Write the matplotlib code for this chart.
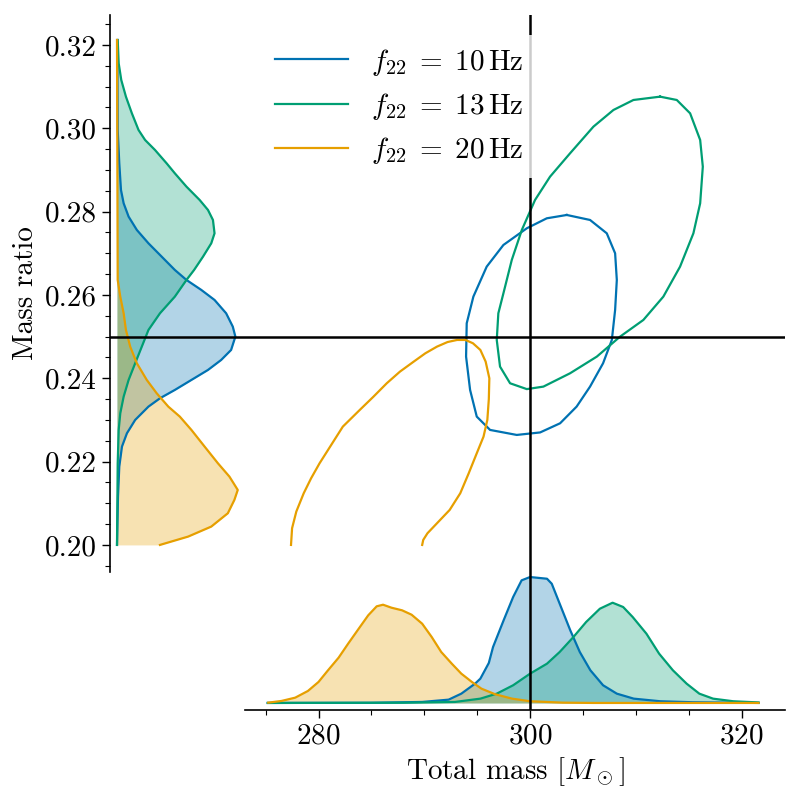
import matplotlib
matplotlib.use('Agg')
import matplotlib.pyplot as plt
import numpy as np

plt.rcParams['font.family'] = 'cmr10'
plt.rcParams['mathtext.fontset'] = 'cm'
plt.rcParams['axes.formatter.use_mathtext'] = True

labels = [r'$f_{22}\;=\;10\,\mathrm{Hz}$', r'$f_{22}\;=\;13\,\mathrm{Hz}$', r'$f_{22}\;=\;20\,\mathrm{Hz}$']
colors = ['#0072B2', '#009E73', '#E69F00']

# marginal of total mass (arbitrary density units)
m_10 = [275.2, 285.0, 289.8, 292.3, 293.5, 294.8, 295.3, 296.1, 296.5, 297.5, 298.4, 299.2,
        300.0, 301.6, 302.05, 302.8, 303.8, 304.7, 305.7, 306.9, 308.2, 309.8, 312.3, 315.4,
        321.6]
pm_10 = [0, 0.2, 1, 3.3, 9.3, 19.3, 24.3, 40, 56, 82.7, 106, 122.7, 126, 124.3, 119.3, 99.3,
         72.7, 51, 32.7, 17.7, 9.3, 4.3, 1.7, 0.7, 0]
m_13 = [275.2, 288.0, 292.9, 295.3, 296.85, 298.4, 300.0, 301.6, 302.8, 304.1, 305.3, 306.6,
        307.8, 308.8, 309.7, 311.0, 312.2, 313.5, 314.8, 316.0, 317.3, 319.2, 321.6]
pm_13 = [0, 0.2, 1, 4.3, 9.3, 17.7, 29.3, 39.3, 51, 66, 81, 94.3, 100.3, 96, 86, 69.3, 49.3,
         32.7, 19.3, 9.3, 4.3, 1.7, 0.5]
m_20 = [275.25, 276.5, 277.8, 279.0, 280.0, 280.9, 281.9, 282.8, 283.8, 284.7, 285.5, 286.1,
        286.9, 287.9, 288.8, 289.8, 290.7, 291.6, 292.6, 293.5, 294.5, 295.4, 296.7, 298.3,
        300.0, 303.1, 306.0, 321.6]
pm_20 = [0.3, 2, 5.3, 12, 21, 32.7, 45.3, 59.3, 74.3, 87.7, 96.7, 98.3, 95.3, 92.7, 88.3,
         79.3, 66, 51, 39.3, 29.3, 21, 14.3, 8.7, 4.3, 1.7, 0.3, 0, 0]

# marginal of mass ratio
q_10 = [0.3212, 0.2996, 0.2916, 0.2852, 0.2820, 0.2788, 0.2756, 0.2724, 0.2692, 0.2660,
        0.2636, 0.2612, 0.2588, 0.2556, 0.2524, 0.2500, 0.2468, 0.2444, 0.2420, 0.2396,
        0.2372, 0.2352, 0.2332, 0.2300, 0.2268, 0.2236, 0.2188, 0.2116, 0.2000]
pq_10 = [0.3, 0.7, 2.3, 4, 6.7, 11.7, 20, 31.7, 45, 58.3, 70, 85, 98.3, 110, 116.7, 119.3,
         115, 105, 91.7, 75, 58.3, 43.3, 31.7, 18.3, 10, 5, 2.3, 1, 0]
q_13 = [0.3212, 0.3156, 0.3116, 0.3076, 0.3036, 0.2996, 0.2972, 0.2948, 0.2916, 0.2892,
        0.2860, 0.2828, 0.2804, 0.2780, 0.2748, 0.2724, 0.2692, 0.2660, 0.2636, 0.2596,
        0.2556, 0.2516, 0.2476, 0.2436, 0.2396, 0.2356, 0.2316, 0.2276, 0.2196, 0.2000]
pq_13 = [0.7, 1.7, 4.3, 9, 15, 21.7, 28.3, 38.3, 50, 58.3, 70, 83.3, 91.7, 96.7, 98.3, 95,
         86.7, 77.7, 70, 58.3, 43.3, 31.7, 25, 18.3, 11.7, 6.7, 3.3, 1.7, 0.7, 0]
q_20 = [0.3212, 0.2800, 0.2636, 0.2596, 0.2556, 0.2516, 0.2476, 0.2436, 0.2396, 0.2364,
        0.2332, 0.2308, 0.2276, 0.2236, 0.2196, 0.2164, 0.2132, 0.2108, 0.2076, 0.2044,
        0.2020, 0.2000]
pq_20 = [0, 0.5, 0.7, 3.3, 6.7, 9, 13.3, 20, 30, 40, 51.7, 63.3, 75, 88.3, 101.7, 113.3,
         121.7, 118.3, 111.7, 95, 71.7, 43.3]

# 2D credible contours (total mass, mass ratio)
c_m_10 = [303.47, 305.67, 307.25, 308.04, 308.2, 308.04, 307.73, 306.9, 305.67, 304.4,
          302.84, 300.95, 298.74, 296.22, 294.96, 294.33, 293.95, 294.01, 294.64, 295.9,
          297.48, 299.69, 301.58, 303.47]
c_q_10 = [0.2792, 0.2780, 0.2748, 0.2700, 0.2636, 0.2564, 0.2492, 0.2436, 0.2380, 0.2332,
          0.2292, 0.2270, 0.2264, 0.2276, 0.2308, 0.2372, 0.2452, 0.2532, 0.2596, 0.2668,
          0.2720, 0.2760, 0.2784, 0.2792]
c_m_13 = [312.29, 313.87, 315.13, 316.08, 316.33, 316.08, 315.44, 314.18, 312.6, 310.71,
          308.51, 306.31, 303.78, 301.26, 299.69, 298.11, 297.16, 296.85, 297.0, 297.48,
          298.27, 299.22, 300.47, 301.89, 303.78, 305.99, 307.88, 309.77, 312.29]
c_q_13 = [0.3076, 0.3068, 0.3036, 0.2972, 0.2908, 0.2820, 0.2748, 0.2668, 0.2596, 0.2540,
          0.2500, 0.2452, 0.2412, 0.2380, 0.2374, 0.2388, 0.2428, 0.2492, 0.2556, 0.2604,
          0.2684, 0.2756, 0.2828, 0.2884, 0.2940, 0.3004, 0.3044, 0.3068, 0.3076]
c_m_20 = [277.4, 277.5, 277.9, 278.6, 279.3, 280.1, 281.2, 282.3, 283.9, 285.2, 286.45,
          287.7, 289.0, 290.1, 291.2, 292.2, 293.1, 293.9, 294.6, 295.3, 295.8, 296.15,
          296.1, 295.96, 295.6, 294.96, 294.2, 293.4, 292.4, 291.2, 290.3, 289.9, 289.8]
c_q_20 = [0.2000, 0.2040, 0.2080, 0.2124, 0.2160, 0.2196, 0.2240, 0.2284, 0.2324, 0.2356,
          0.2388, 0.2416, 0.2440, 0.2460, 0.2476, 0.2487, 0.2492, 0.2492, 0.2484, 0.2468,
          0.2440, 0.2400, 0.2350, 0.2300, 0.2260, 0.2220, 0.2172, 0.2124, 0.2084, 0.2052,
          0.2028, 0.2012, 0.2000]

m_true, q_true = 300, 0.25

fig = plt.figure(figsize=(8, 8), dpi=100)
ax = fig.add_axes([245/800, 1-572/800, 540/800, 557/800])
ax_l = fig.add_axes([110/800, 1-572/800, 135/800, 557/800], sharey=ax)
ax_b = fig.add_axes([245/800, 1-710/800, 540/800, 138/800], sharex=ax)

lw = 1.6
for mm, pm, c in zip([m_10, m_13, m_20], [pm_10, pm_13, pm_20], colors):
    ax_b.fill_between(mm, 0, pm, color=c, alpha=0.3, lw=0)
    ax_b.plot(mm, pm, color=c, lw=lw)
for qq, pq, c in zip([q_10, q_13, q_20], [pq_10, pq_13, pq_20], colors):
    ax_l.fill_betweenx(qq, 0, pq, color=c, alpha=0.3, lw=0)
    ax_l.plot(pq, qq, color=c, lw=lw)

for cm_, cq_, c, lab in zip([c_m_10, c_m_13, c_m_20], [c_q_10, c_q_13, c_q_20], colors, labels):
    ax.plot(cm_, cq_, color=c, lw=lw, label=lab)

ax.set_xlim(273.05, 324.1)
ax.set_ylim(0.1935, 0.3272)
mb = max(pm_10 + pm_13 + pm_20)
ax_b.set_ylim(-0.056*mb, 1.04*mb)
ml = max(pq_10 + pq_13 + pq_20)
ax_l.set_xlim(-0.058*ml, 1.06*ml)

ax.axvline(m_true, color='k', lw=1.8, zorder=5)
ax.axhline(q_true, color='k', lw=1.8, zorder=5)
ax_b.axvline(m_true, color='k', lw=1.8, zorder=5)
ax_l.axhline(q_true, color='k', lw=1.8, zorder=5)

ax.axis('off')
for s in ['top', 'right', 'bottom']:
    ax_l.spines[s].set_visible(False)
for s in ['top', 'right', 'left']:
    ax_b.spines[s].set_visible(False)
ax_l.spines['left'].set_linewidth(1.2)
ax_b.spines['bottom'].set_linewidth(1.2)
ax_l.tick_params(axis='x', bottom=False, labelbottom=False)
ax_b.tick_params(axis='y', left=False, labelleft=False)
ax_b.tick_params(axis='x', labelbottom=True)
ax_l.tick_params(axis='y', labelleft=True)

ax_l.set_yticks(np.arange(0.20, 0.321, 0.02))
ax_l.set_yticks(np.arange(0.195, 0.3271, 0.005), minor=True)
ax_l.yaxis.set_major_formatter(matplotlib.ticker.FormatStrFormatter('%.2f'))
ax_b.set_xticks([280, 300, 320])
ax_b.set_xticks(np.arange(275, 324, 5), minor=True)
for a in (ax_l, ax_b):
    a.tick_params(which='major', length=6, width=1.0, labelsize=21)
    a.tick_params(which='minor', length=3.5, width=0.8)
    a.patch.set_alpha(0)

ax_l.set_ylabel('Mass ratio', fontsize=21)
ax_b.set_xlabel(r'Total mass [$M_\odot$]', fontsize=21)

ax.legend(loc='upper left', bbox_to_anchor=(263/800, 1-35/800), bbox_transform=fig.transFigure,
          borderaxespad=0, frameon=True, framealpha=0.8, edgecolor='none', fancybox=False,
          fontsize=21, handlelength=2.5, labelspacing=0.45)

fig.savefig('out.png', dpi=100)
